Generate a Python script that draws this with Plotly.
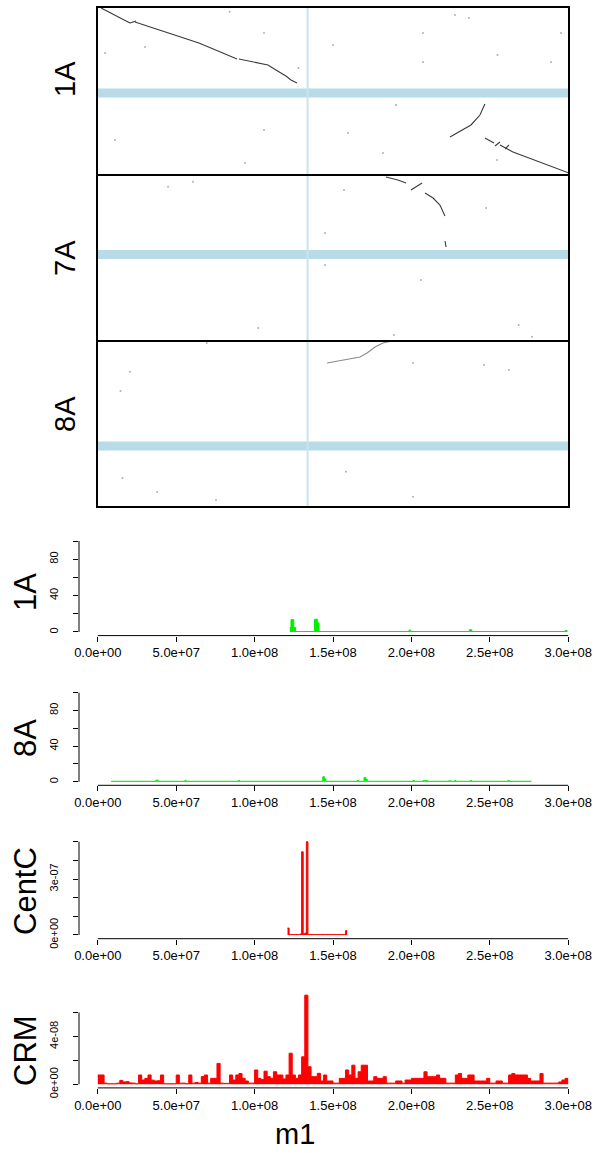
import plotly.graph_objects as go

W, H = 597, 1153
FONT = "Liberation Sans, Arial, Helvetica, sans-serif"

# ---------------- data ----------------
# Dot plot of m1 (x, Mb) against three chromosomes (y, Mb, 0 at top)
m1_length_mb = 301.0
m1_centromere_mb = 134.3
dot_chroms = ["1A", "7A", "8A"]
dot_lengths_mb = [300, 300, 300]
dot_centromeres_mb = [153.6, 143.7, 189.8]

# 1A alignment segments
a1_s1_x = [2.6, 21.0];                   a1_s1_y = [1.8, 28.6]
a1_j1_x = [21.0, 24.9];                  a1_j1_y = [28.6, 25.0]
a1_s2_x = [24.2, 65.0, 89.3];            a1_s2_y = [26.8, 64.3, 92.9]
a1_s3_x = [90.5, 109.0, 114.1, 120.5, 123.7, 127.5]
a1_s3_y = [92.9, 103.6, 112.5, 123.2, 130.4, 135.7]
a1_s4_x = [247.4, 244.2, 238.5, 230.8, 225.1]
a1_s4_y = [173.2, 192.9, 210.7, 223.2, 232.1]
a1_s5_x = [247.4, 253.2];                a1_s5_y = [233.9, 242.9]
a1_j2_x = [253.8, 257.0];                a1_j2_y = [248.2, 241.1]
a1_s6_x = [257.0, 265.3, 301.0];         a1_s6_y = [246.4, 258.9, 296.4]
a1_j3_x = [260.3, 262.7];                a1_j3_y = [253.6, 246.4]
# 7A alignment segments
a7_s1_x = [184.3, 191.9, 197.1];         a7_s1_y = [3.6, 9.0, 14.5]
a7_j1_x = [200.2, 207.3];                a7_j1_y = [27.1, 14.5]
a7_s2_x = [209.2, 214.3, 218.7, 220.7, 221.9]
a7_s2_y = [32.5, 41.6, 54.2, 65.1, 74.1]
a7_s3_x = [221.9, 222.6];                a7_s3_y = [119.3, 130.1]
# 8A alignment segment
a8_s1_x = [146.7, 158.1, 167.7, 172.2, 177.3, 182.4, 186.8]
a8_s1_y = [39.8, 34.3, 28.9, 21.7, 10.8, 3.6, 0.9]

# scattered background hits
a1_dots_x = [84.6, 228.3, 237.2, 150.5, 207.9, 255.4, 289.5, 295.9, 5.1, 106.5,
             160.1, 11.5, 182.4, 94.4, 106.5, 30.6, 128.5, 190.7, 207.9, 255.1]
a1_dots_y = [8.4, 14.3, 19.6, 67.9, 46.4, 85.7, 98.2, 46.4, 82.1, 219.6,
             225.0, 237.5, 260.7, 278.6, 46.4, 71.4, 108.9, 175.0, 98.2, 273.2]
a7_dots_x = [45.3, 61.2, 145.4, 145.4, 248.1, 102.7, 189.4, 268.9, 277.4, 157.5, 206.6]
a7_dots_y = [21.1, 12.1, 104.8, 162.6, 59.6, 276.5, 289.2, 271.1, 292.2, 27.1, 189.8]
a8_dots_x = [21.0, 15.0, 201.5, 246.8, 262.7, 158.8, 201.5, 38.3, 75.9, 16.3, 70.0]
a8_dots_y = [55.5, 90.4, 39.8, 43.4, 52.4, 236.4, 281.4, 272.9, 287.3, 247.6, 3.6]

# Coverage tracks along m1 (step starts in Mb, values)
cov1A_pos = [122.5, 123.2, 125.0, 126.1, 138.2, 140.0, 141.1, 198.5, 199.5,
             237.0, 238.5, 298.0, 299.5]
cov1A_val = [5, 13.5, 5, 0.5, 14, 10, 0.5, 2, 0.5, 2.5, 0.5, 1.5, 1.5]

cov8A_pos = [8.5, 37, 38.5, 55.5, 56.5, 89.5, 90.5, 143.5, 144.5, 145.5,
             165.5, 166.5, 169.8, 170.8, 171.8, 201, 202, 207.5, 210.5,
             224, 225, 227.5, 228.5, 237.5, 238.5, 261.5, 262.5, 276.5]
cov8A_val = [0.5, 1.8, 0.5, 1.3, 0.5, 1.3, 0.5, 5.6, 3, 0.5,
             1.3, 0.5, 4.8, 3, 0.5, 1.3, 0.5, 1.2, 0.5,
             1.2, 0.5, 1.2, 0.5, 1.3, 0.5, 1.3, 0.5, 0.5]

# CentC density, 1 Mb bins starting at 121 Mb (units 1e-7)
centc_start_mb = 121
centc_vals = [0.37, 0.02, 0.02, 0.02, 0.02, 0.02, 0.02, 0.02, 0.05, 4.46,
              0.05, 0.1, 5.0, 0.02, 0.02, 0.02, 0.02, 0.02, 0.02, 0.02,
              0.02, 0.02, 0.02, 0.02, 0.02, 0.02, 0.02, 0.02, 0.02, 0.02,
              0.02, 0.02, 0.02, 0.02, 0.02, 0.02, 0.02, 0.23]

# CRM density, 2 Mb bins from 0 Mb (units 1e-8)
crm_bin_mb = 2
crm_vals = [0.78, 0.78, 0.1, 0.05, 0.05, 0.05, 0.1, 0.33, 0.2, 0.22,
            0.12, 0.1, 0.05, 0.78, 0.36, 0.5, 0.78, 0.35, 0.28, 0.3,
            0.78, 0.05, 0.05, 0.05, 0.05, 0.78, 0.1, 0.1, 0.05, 0.78,
            0.1, 0.15, 0.1, 0.65, 0.78, 0.1, 0.5, 0.5, 1.75, 0.1,
            0.08, 0.08, 0.78, 0.36, 0.78, 0.9, 0.5, 0.28, 0.1, 0.1,
            1.2, 0.5, 0.4, 1.1, 0.64, 0.5, 1.05, 0.78, 0.78, 0.45,
            0.78, 2.6, 0.78, 0.5, 0.78, 2.3, 7.45, 1.47, 0.64, 0.64,
            0.92, 0.28, 0.78, 0.28, 0.28, 0.1, 0.1, 0.5, 0.5, 1.2,
            0.78, 1.6, 0.5, 1.05, 1.6, 1.6, 0.28, 0.28, 0.64, 0.5,
            0.5, 0.64, 0.1, 0.1, 0.1, 0.28, 0.28, 0.1, 0.36, 0.36,
            0.5, 0.5, 0.5, 0.5, 1.05, 0.64, 0.64, 0.64, 0.78, 0.5,
            0.5, 0.1, 0.1, 0.1, 0.78, 0.9, 0.5, 0.5, 0.78, 0.78,
            0.28, 0.28, 0.28, 0.28, 0.5, 0.1, 0.1, 0.28, 0.28, 0.1,
            0.1, 0.78, 0.9, 0.78, 0.78, 0.78, 0.78, 0.5, 0.28, 0.28,
            0.28, 0.9, 0.1, 0.1, 0.1, 0.1, 0.1, 0.2, 0.36, 0.5]

xtick_vals = [0, 5e7, 1e8, 1.5e8, 2e8, 2.5e8, 3e8]
xtick_text = ["0.0e+00", "5.0e+07", "1.0e+08", "1.5e+08", "2.0e+08", "2.5e+08", "3.0e+08"]
x_max = 3e8

# ---------------- helpers ----------------
def px2x(p):
    return max(0.0, min(1.0, p / W))

def py2y(p):
    return max(0.0, min(1.0, 1 - p / H))

fig = go.Figure()

dot_ydom = [(py2y(175), py2y(7)), (py2y(341), py2y(175)), (py2y(507), py2y(341))]
dot_xdom = (px2x(97), px2x(569))

segs = {
    "1A": [(a1_s1_x, a1_s1_y), (a1_j1_x, a1_j1_y), (a1_s2_x, a1_s2_y), (a1_s3_x, a1_s3_y),
           (a1_s4_x, a1_s4_y), (a1_s5_x, a1_s5_y), (a1_j2_x, a1_j2_y), (a1_s6_x, a1_s6_y),
           (a1_j3_x, a1_j3_y)],
    "7A": [(a7_s1_x, a7_s1_y), (a7_j1_x, a7_j1_y), (a7_s2_x, a7_s2_y), (a7_s3_x, a7_s3_y)],
    "8A": [(a8_s1_x, a8_s1_y)],
}
dots = {"1A": (a1_dots_x, a1_dots_y), "7A": (a7_dots_x, a7_dots_y), "8A": (a8_dots_x, a8_dots_y)}
seg_color = {"1A": "#3a3a3a", "7A": "#3a3a3a", "8A": "#8a8a8a"}

shapes = []
annotations = []
layout = {}

for i, ch in enumerate(dot_chroms):
    n = i + 1
    xa = "x" if n == 1 else f"x{n}"
    ya = "y" if n == 1 else f"y{n}"
    dx, dy = dots[ch]
    fig.add_trace(go.Scatter(x=[v * 1e6 for v in dx], y=dy, mode="markers",
                             marker=dict(size=2, color="#b0b0b0"),
                             xaxis=xa, yaxis=ya, hoverinfo="skip", showlegend=False))
    for sx, sy in segs[ch]:
        fig.add_trace(go.Scatter(x=[v * 1e6 for v in sx], y=sy, mode="lines",
                                 line=dict(color=seg_color[ch], width=1.1),
                                 xaxis=xa, yaxis=ya, hoverinfo="skip", showlegend=False))
    layout[f"xaxis{n}" if n > 1 else "xaxis"] = dict(
        domain=dot_xdom, range=[0, m1_length_mb * 1e6], anchor=ya, automargin=False,
        showticklabels=False, ticks="", showgrid=False, zeroline=False, showline=False)
    layout[f"yaxis{n}" if n > 1 else "yaxis"] = dict(
        domain=dot_ydom[i], range=[dot_lengths_mb[i], 0], anchor=xa, automargin=False,
        showticklabels=False, ticks="", showgrid=False, zeroline=False, showline=False)
    # horizontal centromere band
    shapes.append(dict(type="line", xref=f"{xa} domain", yref=ya, x0=0, x1=1,
                       y0=dot_centromeres_mb[i], y1=dot_centromeres_mb[i],
                       line=dict(color="#b7dce8", width=9), layer="below"))
    # panel frame
    shapes.append(dict(type="rect", xref=f"{xa} domain", yref=f"{ya} domain",
                       x0=0, x1=1, y0=0, y1=1, line=dict(color="black", width=2),
                       fillcolor="rgba(0,0,0,0)", layer="above"))

# vertical centromere line on m1
shapes.append(dict(type="line", xref="x", yref="paper",
                   x0=m1_centromere_mb * 1e6, x1=m1_centromere_mb * 1e6,
                   y0=dot_ydom[2][0], y1=dot_ydom[0][1],
                   line=dict(color="#c8e4ee", width=2), layer="below"))

top_label_y = [79, 258, 414]
for i, ch in enumerate(dot_chroms):
    annotations.append(dict(text=ch, x=px2x(65), y=py2y(top_label_y[i]), xref="paper", yref="paper",
                            showarrow=False, textangle=-90, xanchor="center", yanchor="middle",
                            font=dict(family=FONT, size=29, color="black")))

# ---------------- lower tracks ----------------
low_xdom = (px2x(79), px2x(587))
x_range = [-0.04 * x_max, 1.04 * x_max]

def step_trace(starts_mb, vals, end_mb, scale, color, xa, ya):
    xs = [s * 1e6 for s in starts_mb] + [end_mb * 1e6]
    ys = [v * scale for v in vals] + [vals[-1] * scale]
    return go.Scatter(x=xs, y=ys, mode="lines", line=dict(color=color, width=1, shape="hv"),
                      fill="tozeroy", fillcolor=color, xaxis=xa, yaxis=ya,
                      hoverinfo="skip", showlegend=False)

centc_starts = [centc_start_mb + k for k in range(len(centc_vals))]
crm_starts = [k * crm_bin_mb for k in range(len(crm_vals))]

tracks = [
    dict(name="1A", trace=(cov1A_pos[:-1], cov1A_val[:-1], cov1A_pos[-1], 1.0, "#00ee00"),
         ymax=100, ytv=[0, 20, 40, 60, 80, 100], ytt=["0", "", "40", "", "80", ""],
         dom=(py2y(635.6), py2y(537.4)), lab_y=592),
    dict(name="8A", trace=(cov8A_pos[:-1], cov8A_val[:-1], cov8A_pos[-1], 1.0, "#00ee00"),
         ymax=100, ytv=[0, 20, 40, 60, 80, 100], ytt=["0", "", "40", "", "80", ""],
         dom=(py2y(785.3), py2y(689.1)), lab_y=738),
    dict(name="CentC", trace=(centc_starts, centc_vals, centc_starts[-1] + 1, 1e-7, "#ff0000"),
         ymax=max(centc_vals) * 1e-7, ytv=[0, 1e-7, 2e-7, 3e-7, 4e-7, 5e-7],
         ytt=["0e+00", "", "", "3e-07", "", ""],
         dom=(py2y(938.7), py2y(838.0)), lab_y=891),
    dict(name="CRM", trace=(crm_starts, crm_vals, crm_starts[-1] + crm_bin_mb, 1e-8, "#ff0000"),
         ymax=max(crm_vals) * 1e-8, ytv=[0, 2e-8, 4e-8, 6e-8],
         ytt=["0e+00", "", "4e-08", ""],
         dom=(py2y(1087.9), py2y(991.6)), lab_y=1051),
]

for j, t in enumerate(tracks):
    n = 4 + j
    xa, ya = f"x{n}", f"y{n}"
    st, sv, se, sc, col = t["trace"]
    fig.add_trace(step_trace(st, sv, se, sc, col, xa, ya))
    ymax = t["ymax"]
    layout[f"xaxis{n}"] = dict(
        domain=low_xdom, range=x_range, anchor=ya, automargin=False,
        showgrid=False, zeroline=False,
        showline=False, ticks="outside", ticklen=5, tickwidth=1, tickcolor="black",
        tickvals=xtick_vals, ticktext=xtick_text,
        tickfont=dict(family=FONT, size=13, color="black"))
    layout[f"yaxis{n}"] = dict(
        domain=t["dom"], range=[-0.04 * ymax, 1.04 * ymax], anchor=xa, automargin=False,
        showgrid=False, zeroline=False, showline=False,
        ticks="outside", ticklen=5, tickwidth=1, tickcolor="black",
        tickvals=t["ytv"], ticktext=t["ytt"], tickangle=-90, ticklabelstandoff=11,
        tickfont=dict(family=FONT, size=11, color="black"))
    shapes.append(dict(type="line", xref=xa, yref=f"{ya} domain", x0=0, x1=x_max, y0=0, y1=0,
                       line=dict(color="black", width=1)))
    shapes.append(dict(type="line", xref=f"{xa} domain", yref=ya, x0=0, x1=0,
                       y0=t["ytv"][0], y1=t["ytv"][-1], line=dict(color="black", width=1)))
    annotations.append(dict(text=t["name"], x=px2x(25), y=py2y(t["lab_y"]), xref="paper", yref="paper",
                            showarrow=False, textangle=-90, xanchor="center", yanchor="middle",
                            font=dict(family=FONT, size=31, color="black")))

annotations.append(dict(text="m1", x=px2x(295), y=py2y(1134), xref="paper", yref="paper",
                        showarrow=False, xanchor="center", yanchor="middle",
                        font=dict(family=FONT, size=29, color="black")))

fig.update_layout(template="none", width=W, height=H, autosize=False,
                  margin=dict(l=0, r=0, t=0, b=0, pad=0),
                  paper_bgcolor="white", plot_bgcolor="white",
                  shapes=shapes, annotations=annotations, showlegend=False, **layout)

fig.write_html("out.html",
               config={"displayModeBar": False, "staticPlot": True},
               post_script="document.body.style.margin='0';document.body.style.overflow='hidden';")
